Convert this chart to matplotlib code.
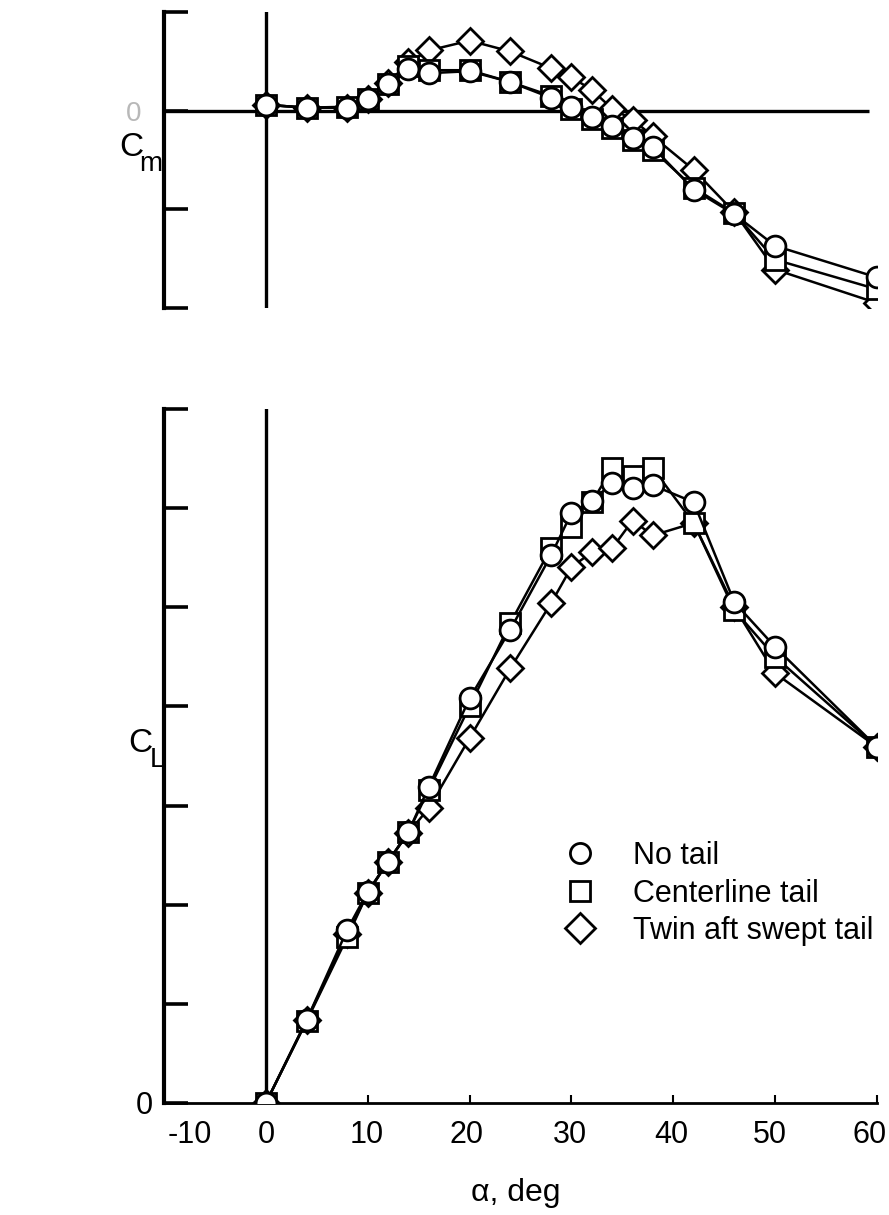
import matplotlib
matplotlib.use('Agg')
import matplotlib.pyplot as plt
from matplotlib.lines import Line2D

plt.rcParams['font.family'] = ['Liberation Sans', 'DejaVu Sans']

# ---- data ----
alpha = [0, 4, 8, 10, 12, 14, 16, 20, 24, 28, 30, 32, 34, 36, 38, 42, 46, 50, 60]

cm_notail = [0.006, 0.003, 0.003, 0.012, 0.027, 0.042, 0.038, 0.040, 0.029, 0.013, 0.004,
             -0.006, -0.016, -0.028, -0.037, -0.080, -0.105, -0.137, -0.169]
cm_center = [0.006, 0.003, 0.004, 0.012, 0.027, 0.045, 0.041, 0.041, 0.029, 0.015, 0.002,
             -0.008, -0.018, -0.030, -0.040, -0.078, -0.104, -0.151, -0.181]
cm_twin = [0.006, 0.003, 0.003, 0.012, 0.028, 0.049, 0.061, 0.071, 0.060, 0.043, 0.034,
           0.021, 0.002, -0.009, -0.026, -0.060, -0.103, -0.161, -0.195]

cl_notail = [0.0, 0.167, 0.350, 0.426, 0.487, 0.547, 0.638, 0.816, 0.955, 1.105, 1.190,
             1.215, 1.250, 1.240, 1.246, 1.212, 1.010, 0.920, 0.718]
cl_center = [0.0, 0.165, 0.335, 0.424, 0.487, 0.547, 0.632, 0.800, 0.968, 1.120, 1.162,
             1.212, 1.280, 1.265, 1.280, 1.170, 0.994, 0.900, 0.718]
cl_twin = [0.0, 0.167, 0.340, 0.424, 0.487, 0.545, 0.595, 0.736, 0.877, 1.008, 1.081,
           1.111, 1.119, 1.175, 1.145, 1.170, 1.000, 0.867, 0.718]

legend_labels = ['No tail', 'Centerline tail', 'Twin aft swept tail']
xtick_vals = [-10, 0, 10, 20, 30, 40, 50, 60]
xtick_labels = ['-10', '0', '10', '20', '30', '40', '50', '60']

# ---- figure ----
W, H = 889, 1215
PT = 0.72  # points per pixel at 100 dpi
fig = plt.figure(figsize=(W / 100, H / 100), dpi=100)
ax1 = fig.add_axes([164 / W, (H - 308) / H, (877 - 164) / W, 296 / H])
ax2 = fig.add_axes([164 / W, (H - 1103) / H, (877 - 164) / W, 694 / H])

styles = [
    dict(marker='D', ms=13, label=legend_labels[2]),
    dict(marker='s', ms=14, label=legend_labels[1]),
    dict(marker='o', ms=15, label=legend_labels[0]),
]
common = dict(color='black', lw=1.8, mfc='white', mec='black', mew=2.0)

for ys, st in zip([cm_twin, cm_center, cm_notail], styles):
    ax1.plot(alpha, ys, zorder=3, **common, **st)
for ys, st in zip([cl_twin, cl_center, cl_notail], styles):
    ax2.plot(alpha, ys, zorder=3, **common, **st)

# ---- top panel (Cm) ----
ax1.set_xlim(-10, 60)
ax1.set_ylim(-0.2, 0.1)
for s in ['top', 'right', 'bottom']:
    ax1.spines[s].set_visible(False)
ax1.spines['left'].set_linewidth(3)
ax1.set_xticks([])
ax1.set_yticks([-0.2, -0.1, 0, 0.1])
ax1.set_yticklabels(['', '', '0', ''], color='#b8b8b8', fontsize=20)
ax1.tick_params(axis='y', direction='in', length=17, width=2.6, pad=16)
ax1.hlines(0, -10, 59.2, color='black', lw=2.4, zorder=2)
ax1.axvline(0, color='black', lw=2.4, zorder=2)

# ---- bottom panel (CL) ----
ax2.set_xlim(-10, 60)
ax2.set_ylim(0, 1.4)
for s in ['top', 'right']:
    ax2.spines[s].set_visible(False)
ax2.spines['left'].set_linewidth(3)
ax2.spines['bottom'].set_linewidth(2)
ax2.set_xticks(xtick_vals)
ax2.set_xticklabels([])
ax2.tick_params(axis='x', direction='in', length=6, width=1.5)
label_shift_px = [26, 0, -1, -3, -2, -2, -5, -7]
for v, lab, dx in zip(xtick_vals, xtick_labels, label_shift_px):
    ax2.annotate(lab, xy=(v, 0), xycoords=('data', 'axes fraction'),
                 xytext=(dx * PT, -32 * PT), textcoords='offset points',
                 ha='center', va='center', fontsize=22)
ax2.set_yticks([0, 0.2, 0.4, 0.6, 0.8, 1.0, 1.2, 1.4])
ax2.set_yticklabels(['0', '', '', '', '', '', '', ''], fontsize=22)
ax2.tick_params(axis='y', direction='in', length=17, width=2.6, pad=8)
ax2.axvline(0, color='black', lw=2.4, zorder=2)

# ---- axis labels (letter + lowered subscript) ----
fig.text(131 / W, 1 - 148 / H, 'C', fontsize=24, ha='center', va='center')
fig.text(151 / W, 1 - 164 / H, 'm', fontsize=20, ha='center', va='center')
fig.text(140 / W, 1 - 744 / H, 'C', fontsize=24, ha='center', va='center')
fig.text(157 / W, 1 - 760 / H, 'L', fontsize=20, ha='center', va='center')
fig.text(516 / W, 1 - 1193 / H, 'α, deg', fontsize=23, ha='center', va='center')

# ---- legend ----
handles = [
    Line2D([], [], ls='none', marker='o', ms=14.5, mfc='white', mec='black', mew=2.0),
    Line2D([], [], ls='none', marker='s', ms=14.5, mfc='white', mec='black', mew=2.0),
    Line2D([], [], ls='none', marker='D', ms=15, mfc='white', mec='black', mew=2.0),
]
ax2.legend(handles, legend_labels, loc='center left',
           bbox_to_anchor=(565 / W, 1 - 893.5 / H), bbox_transform=fig.transFigure,
           frameon=False, handlelength=1.0, handletextpad=1.24, labelspacing=0.25,
           borderpad=0, borderaxespad=0,
           prop={'family': ['Liberation Sans', 'DejaVu Sans'], 'size': 22})

fig.savefig('out.png', dpi=100, facecolor='white')
